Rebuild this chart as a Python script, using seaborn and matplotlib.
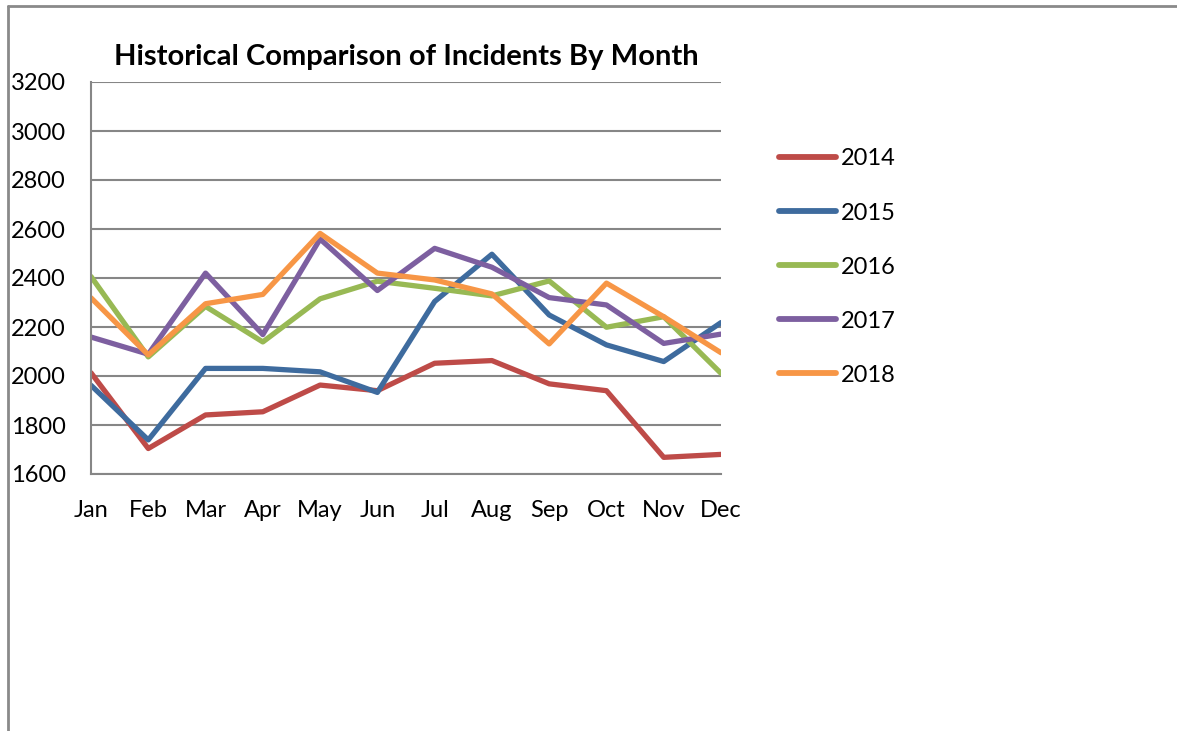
import seaborn as sns
import matplotlib.pyplot as plt
import pandas as pd
from matplotlib.lines import Line2D

# data
months = ['Jan', 'Feb', 'Mar', 'Apr', 'May', 'Jun', 'Jul', 'Aug', 'Sep', 'Oct', 'Nov', 'Dec']
years = ['2014', '2015', '2016', '2017', '2018']
y2014 = [2013, 1704, 1841, 1854, 1963, 1940, 2052, 2063, 1968, 1940, 1668, 1680]
y2015 = [1962, 1739, 2031, 2031, 2017, 1933, 2304, 2497, 2249, 2127, 2059, 2218]
y2016 = [2406, 2078, 2284, 2139, 2315, 2387, 2358, 2327, 2388, 2199, 2242, 2011]
y2017 = [2159, 2089, 2420, 2169, 2559, 2349, 2521, 2444, 2320, 2290, 2133, 2171]
y2018 = [2319, 2086, 2295, 2333, 2582, 2420, 2392, 2335, 2131, 2379, 2242, 2095]
colors = ['#BE4B48', '#3E6B9E', '#98B954', '#7D5FA0', '#F79646']

rows = []
for yr, vals in zip(years, [y2014, y2015, y2016, y2017, y2018]):
    for m, v in zip(months, vals):
        rows.append({'Month': m, 'Incidents': v, 'Year': yr})
df = pd.DataFrame(rows)

sns.set_style('white')
plt.rcParams['font.family'] = ['Lato', 'DejaVu Sans']
plt.rcParams['text.color'] = 'black'

fig = plt.figure(figsize=(11.77, 7.31), dpi=100)
ax = fig.add_axes([91 / 1177, 1 - 474 / 731, 630 / 1177, 392 / 731])

sns.lineplot(data=df, x='Month', y='Incidents', hue='Year', palette=colors,
             linewidth=3.8, sort=False, ax=ax, legend=False)

grid = '#868686'
ax.set_xlim(0, 11)
ax.set_ylim(1600, 3200)
ax.set_yticks(range(1600, 3201, 200))
ax.set_xticks(range(12))
ax.set_xticklabels(months)
ax.grid(axis='y', color=grid, linewidth=1.5)
ax.set_axisbelow(True)
for side in ['top', 'right']:
    ax.spines[side].set_visible(False)
for side in ['left', 'bottom']:
    ax.spines[side].set_color(grid)
    ax.spines[side].set_linewidth(1.5)
ax.tick_params(axis='both', direction='inout', length=12, width=1.2, color=grid,
               labelsize=17, labelcolor='black')
ax.tick_params(axis='x', pad=13)
ax.tick_params(axis='y', pad=12)
ax.set_xlabel('')
ax.set_ylabel('')

ax.set_title('Historical Comparison of Incidents By Month', fontsize=21,
             fontweight='bold', color='black', pad=12)

# legend
handles = [Line2D([], [], color=c, linewidth=4.2, solid_capstyle='round') for c in colors]
fig.legend(handles, years, loc='upper left', bbox_to_anchor=(770 / 1177, 1 - 139 / 731),
           frameon=False, fontsize=17, handlelength=2.4, handletextpad=0.2,
           labelspacing=1.4, borderaxespad=0, labelcolor='black')

# chart area border
fig.add_artist(Line2D([8 / 1177, 1], [1 - 6 / 731, 1 - 6 / 731], color='#8A8A8A', linewidth=2))
fig.add_artist(Line2D([8 / 1177, 8 / 1177], [0, 1 - 6 / 731], color='#8A8A8A', linewidth=2))

fig.savefig('out.png', dpi=100)
